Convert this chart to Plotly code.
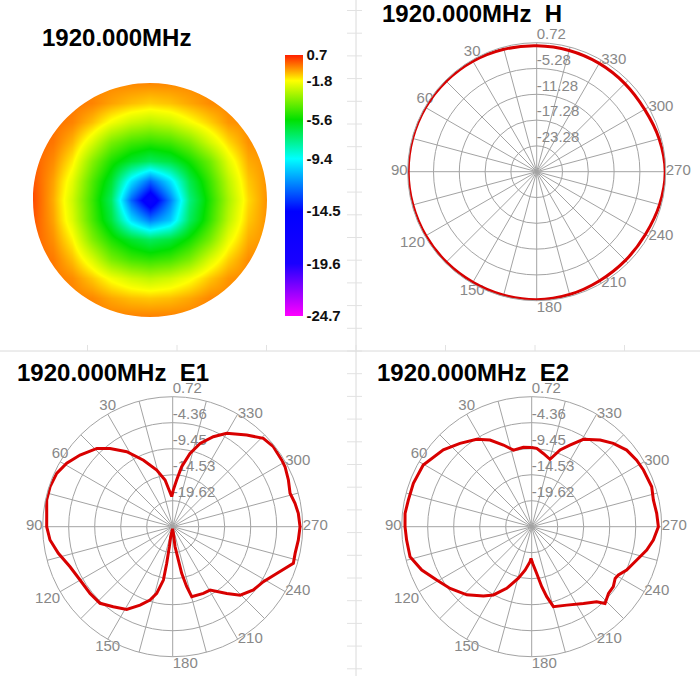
import plotly.graph_objects as go

# ---------------- data ----------------
FREQ_LABEL = "1920.000MHz"

# 3D pattern seen from above (disc): grid values
DISC_X = [-1.0, -5 / 6, -4 / 6, -3 / 6, -2 / 6, -1 / 6, 0.0, 1 / 6, 2 / 6, 3 / 6, 4 / 6, 5 / 6, 1.0]
DISC_Y_TOP_DOWN = DISC_X[::-1]
DISC_GAIN = [
    [-0.2, -0.3, -0.4, -0.5, -0.5, -0.5, -0.5, -0.5, -0.5, -0.5, -0.6, -0.6, -0.6],
    [-0.2, -0.2, -0.3, -0.45, -0.8, -1.1, -1.3, -1.15, -0.85, -0.55, -0.5, -0.6, -0.6],
    [-0.1, -0.2, -0.45, -1.1, -1.95, -2.6, -2.9, -2.6, -1.95, -1.3, -0.65, -0.55, -0.6],
    [-0.05, -0.3, -1.0, -2.35, -3.8, -4.6, -4.9, -4.6, -3.8, -2.5, -1.4, -0.6, -0.6],
    [0.0, -0.55, -1.6, -3.6, -5.2, -6.3, -7.0, -6.5, -5.4, -4.0, -2.2, -0.9, -0.6],
    [0.1, -0.8, -2.2, -4.4, -6.3, -10.0, -12.5, -10.0, -6.8, -4.8, -2.8, -1.2, -0.6],
    [0.2, -0.9, -2.5, -4.7, -7.0, -12.5, -16.0, -12.0, -7.5, -5.2, -3.1, -1.4, -0.6],
    [0.1, -0.8, -2.3, -4.5, -6.5, -10.0, -12.0, -10.5, -7.0, -4.9, -2.8, -1.2, -0.6],
    [0.0, -0.6, -1.7, -3.7, -5.2, -6.3, -7.0, -6.5, -5.4, -3.9, -2.1, -0.9, -0.6],
    [-0.1, -0.35, -1.1, -2.35, -3.8, -4.6, -4.9, -4.6, -3.8, -2.4, -1.3, -0.55, -0.6],
    [-0.2, -0.3, -0.55, -1.2, -1.95, -2.5, -2.8, -2.5, -1.95, -1.2, -0.65, -0.5, -0.5],
    [-0.3, -0.3, -0.4, -0.5, -0.85, -1.1, -1.2, -1.1, -0.85, -0.5, -0.5, -0.5, -0.5],
    [-0.3, -0.4, -0.4, -0.4, -0.4, -0.4, -0.4, -0.4, -0.4, -0.4, -0.5, -0.5, -0.5],
]
CBAR_TICKS = [0.7, -1.8, -5.6, -9.4, -14.5, -19.6, -24.7]
CBAR_MIN, CBAR_MAX = -24.7, 0.7

# H plane
H_THETA = list(range(0, 360, 15))
H_GAIN = [0.0, 0.2, 0.4, 0.5, 0.6, 0.6, 0.6, 0.55, 0.5, 0.45, 0.4, 0.45,
          0.5, 0.3, 0.0, -0.1, -0.1, 0.3, 0.6, 0.2, -0.3, -0.3, -0.2, -0.1]
H_RTICKS = [-23.28, -17.28, -11.28, -5.28, 0.72]
H_RMIN = -29.28

# E planes
E_RTICKS = [-19.62, -14.53, -9.45, -4.36, 0.72]
E_RMIN = -24.70

E1_THETA = [1.9, 9.3, 15.8, 23.7, 31.5, 38.7, 44.1, 52.3, 59.1, 65.3,
            71.9, 78.0, 84.0, 90.0, 96.2, 103.1, 111.3, 119.9, 128.9, 136.5,
            143.4, 150.9, 157.4, 162.8, 166.5, 170.1, 170.7, 170.5, 168.7, 175.0,
            185.7, 186.7, 189.6, 190.9, 193.1, 195.2, 204.7, 210.5, 219.0, 224.6,
            231.9, 238.8, 245.8, 253.1, 257.7, 263.9, 270.0, 276.1, 280.8, 285.9,
            292.0, 298.1, 301.5, 308.5, 314.3, 321.1, 330.0, 335.7, 341.8, 346.7,
            351.5, 355.1, 359.0]
E1_GAIN = [-18.8, -15.45, -13.2, -10.5, -7.5, -5.1, -3.4, -1.8, -0.55, 0.27,
           0.52, 0.49, 0.07, -0.06, -0.57, -1.74, -3.15, -3.8, -3.93, -4.05,
           -5.2, -6.2, -8.1, -9.7, -11.3, -14.1, -17.4, -20.7, -22.7, -24.3,
           -23.4, -20.8, -18.1, -15.4, -12.7, -10.5, -10.35, -10.3, -7.9, -5.9,
           -4.65, -3.97, -2.4, -0.04, -0.2, 0.0, 0.2, 0.0, -0.35, -0.84,
           -0.3, 0.2, 0.29, 0.45, 0.05, -1.66, -3.6, -5.4, -7.55, -9.97,
           -12.83, -15.5, -17.5]

E2_THETA = [0.0, 6.0, 13.4, 19.1, 25.7, 32.2, 40.7, 49.0, 60.4, 69.9,
            77.8, 84.0, 90.0, 96.1, 103.9, 111.5, 119.3, 127.1, 136.4, 145.1,
            150.7, 157.9, 165.5, 171.3, 177.3, 178.8, 181.6, 186.1, 189.5, 192.1,
            195.2, 204.1, 214.0, 220.9, 223.7, 229.0, 233.7, 238.2, 240.9, 245.5,
            252.4, 258.5, 263.7, 270.0, 276.1, 282.4, 288.4, 296.9, 302.4, 308.9,
            315.6, 321.7, 329.4, 334.9, 339.7, 344.8, 351.0, 356.3]
E2_GAIN = [-9.2, -9.1, -9.3, -7.8, -5.9, -4.5, -3.2, -1.8, -0.3, -0.06,
           -0.02, 0.2, 0.07, -0.1, -0.2, -1.6, -3.4, -4.7, -6.3, -8.2,
           -9.4, -11.7, -14.3, -16.1, -17.85, -18.5, -17.5, -15.5, -12.8, -10.7,
           -8.5, -7.9, -6.6, -5.3, -3.95, -4.8, -4.9, -5.5, -5.3, -4.3,
           -3.15, -1.75, -0.77, 0.07, -0.12, -0.34, 0.03, -0.2, -0.4, -0.84,
           -1.9, -3.1, -4.85, -7.1, -8.7, -11.05, -10.2, -9.35]

GRID_ANGLES = list(range(0, 360, 15))
ANGLE_LABEL_VALUES = [30, 60, 90, 120, 150, 180, 210, 240, 270, 300, 330]

# ---------------- styling ----------------
W, H = 700, 676
FONT = "Liberation Sans, Arial, sans-serif"
GRID = "#a3a3a3"
LABEL_GRAY = "#888888"
RED = "#d80000"
# where each angle label sits relative to its point on the outer ring
ANGLE_LABEL_POS = ["top center", "top center", "middle left", "bottom left", "bottom center",
                   "bottom right", "middle right", "middle right", "middle right",
                   "middle right", "middle right"]


def span(lo, hi):
    return [lo / W, hi / W]


def vspan(top, bottom):
    return [1 - bottom / H, 1 - top / H]


def lo_of(v):
    return (v - CBAR_MIN) / (CBAR_MAX - CBAR_MIN)


colorscale = [
    [lo_of(-24.7), "#ff00ff"],
    [lo_of(-19.6), "#1a00ff"],
    [lo_of(-14.5), "#0000ff"],
    [lo_of(-9.4), "#00ffff"],
    [lo_of(-5.6), "#00e000"],
    [lo_of(-1.8), "#ffff00"],
    [lo_of(-0.6), "#ff9000"],
    [lo_of(0.7), "#ff2000"],
]

fig = go.Figure()

# disc heatmap
fig.add_trace(go.Heatmap(
    x=DISC_X, y=DISC_Y_TOP_DOWN[::-1], z=DISC_GAIN[::-1],
    zmin=CBAR_MIN, zmax=CBAR_MAX, colorscale=colorscale, zsmooth="best",
    hoverinfo="skip", xaxis="x", yaxis="y",
    colorbar=dict(
        x=285 / W, xanchor="left", xpad=0, ypad=0,
        y=1 - 185.5 / H, yanchor="middle",
        len=261, lenmode="pixels", thickness=18, thicknessmode="pixels",
        outlinewidth=0, ticks="", tickmode="array",
        tickvals=CBAR_TICKS, ticktext=[f"{v:.1f}" for v in CBAR_TICKS],
        tickfont=dict(family=FONT, size=15, color="#111111", weight="bold"),
    ),
))


def polar_traces(theta, gain, rticks, subplot, shape):
    # radial tick labels along the 0° spoke
    fig.add_trace(go.Scatterpolar(
        r=rticks, theta=[0] * len(rticks), mode="text",
        text=[f"{v:.2f}" for v in rticks], textposition="top right",
        textfont=dict(family=FONT, size=15, color=LABEL_GRAY),
        subplot=subplot, hoverinfo="skip", showlegend=False, cliponaxis=False,
    ))
    # angle labels just outside the outer ring
    fig.add_trace(go.Scatterpolar(
        r=[rticks[-1]] * len(ANGLE_LABEL_VALUES), theta=ANGLE_LABEL_VALUES, mode="text",
        text=[str(a) for a in ANGLE_LABEL_VALUES], textposition=ANGLE_LABEL_POS,
        textfont=dict(family=FONT, size=15, color=LABEL_GRAY),
        subplot=subplot, hoverinfo="skip", showlegend=False, cliponaxis=False,
    ))
    fig.add_trace(go.Scatterpolar(
        r=gain + gain[:1], theta=theta + theta[:1], mode="lines",
        line=dict(color=RED, width=3, shape=shape), subplot=subplot, hoverinfo="skip",
        showlegend=False,
    ))


polar_traces(H_THETA, H_GAIN, H_RTICKS, "polar", "spline")
polar_traces(E1_THETA, E1_GAIN, E_RTICKS, "polar2", "linear")
polar_traces(E2_THETA, E2_GAIN, E_RTICKS, "polar3", "linear")


def polar_layout(xd, yd, rmin, rticks):
    return dict(
        domain=dict(x=xd, y=yd),
        bgcolor="white",
        radialaxis=dict(range=[rmin, rticks[-1]], tickvals=rticks,
                        showticklabels=False, ticks="", showline=False,
                        gridcolor=GRID, gridwidth=1),
        angularaxis=dict(rotation=90, direction="counterclockwise",
                         tickmode="array", tickvals=GRID_ANGLES, showticklabels=False,
                         ticks="", showline=True, linecolor=GRID, linewidth=1,
                         gridcolor=GRID, gridwidth=1),
    )


# decorative page lines (spreadsheet-like background)
shapes = [
    dict(type="line", xref="paper", yref="paper", x0=356 / W, x1=356 / W, y0=0, y1=1,
         line=dict(color="#dadada", width=1), layer="below"),
    dict(type="line", xref="paper", yref="paper", x0=0, x1=1, y0=1 - 351 / H, y1=1 - 351 / H,
         line=dict(color="#dadada", width=1), layer="below"),
]
k = -15
while True:
    yy = 351 + k * 22.7
    k += 1
    if yy < 0:
        continue
    if yy > H:
        break
    shapes.append(dict(type="line", xref="paper", yref="paper", x0=347 / W, x1=362 / W,
                       y0=1 - yy / H, y1=1 - yy / H, line=dict(color="#e2e2e2", width=1),
                       layer="below"))
for i in range(-1, 9):
    xx = 356 + i * 89.5 - 4 * 89.5
    if 0 <= xx <= W:
        shapes.append(dict(type="line", xref="paper", yref="paper", x0=xx / W, x1=xx / W,
                           y0=1 - 351 / H, y1=1 - 345 / H, line=dict(color="#e2e2e2", width=1),
                           layer="below"))

# white mask around the disc (rectangle with a circular hole)
c = 0.5523
mask_path = ("M -1.5 -1.5 L 1.5 -1.5 L 1.5 1.5 L -1.5 1.5 Z "
             f"M 1 0 C 1 {c} {c} 1 0 1 C {-c} 1 -1 {c} -1 0 "
             f"C -1 {-c} {-c} -1 0 -1 C {c} -1 1 {-c} 1 0 Z")
shapes.append(dict(type="path", xref="x", yref="y", path=mask_path,
                   fillcolor="white", line=dict(width=0), layer="above",
                   fillrule="evenodd"))

title_font = dict(family=FONT, size=24, color="black", weight="bold")
annotations = [
    dict(text=FREQ_LABEL, x=40 / W, y=1 - 38 / H),
    dict(text=FREQ_LABEL + "\u00a0\u00a0H", x=380 / W, y=1 - 14 / H),
    dict(text=FREQ_LABEL + "\u00a0\u00a0E1", x=15 / W, y=1 - 372 / H),
    dict(text=FREQ_LABEL + "\u00a0\u00a0E2", x=375 / W, y=1 - 372 / H),
]
for a in annotations:
    a.update(xref="paper", yref="paper", xanchor="left", yanchor="middle",
             showarrow=False, font=title_font)

fig.update_layout(
    width=W, height=H, margin=dict(l=0, r=0, t=0, b=0),
    paper_bgcolor="white", plot_bgcolor="white", showlegend=False,
    xaxis=dict(domain=span(33, 267), range=[-1, 1], visible=False, fixedrange=True),
    yaxis=dict(domain=vspan(83, 317), range=[-1, 1], visible=False, fixedrange=True),
    polar=polar_layout(span(407.7, 665.7), vspan(42.7, 300.7), H_RMIN, H_RTICKS),
    polar2=polar_layout(span(42.7, 302.7), vspan(396.7, 656.7), E_RMIN, E_RTICKS),
    polar3=polar_layout(span(401.7, 661.7), vspan(396.7, 656.7), E_RMIN, E_RTICKS),
    shapes=shapes, annotations=annotations,
)

fig.write_html(
    "out.html",
    config={"displayModeBar": False},
    post_script="document.body.style.margin='0px';document.body.style.overflow='hidden';",
)
